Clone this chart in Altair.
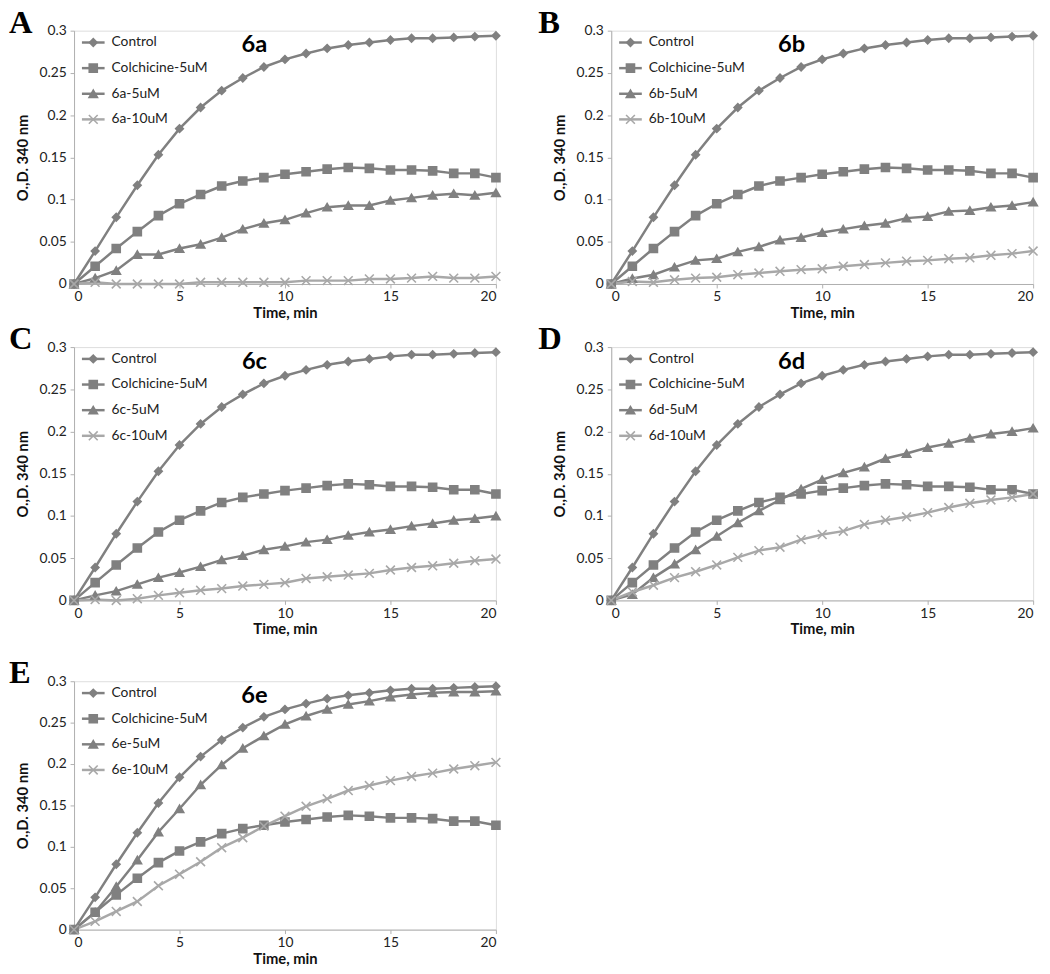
import altair as alt
import pandas as pd

time = list(range(21))
control = [0, 0.039, 0.079, 0.117, 0.153, 0.184, 0.209, 0.229, 0.244, 0.257, 0.266,
           0.273, 0.279, 0.283, 0.286, 0.289, 0.291, 0.291, 0.292, 0.293, 0.294]
colchicine = [0, 0.021, 0.042, 0.062, 0.081, 0.095, 0.106, 0.116, 0.122, 0.126, 0.130,
              0.133, 0.136, 0.138, 0.137, 0.135, 0.135, 0.134, 0.131, 0.131, 0.126]
a5 = [0, 0.007, 0.016, 0.035, 0.035, 0.042, 0.047, 0.055, 0.065, 0.072, 0.076,
      0.084, 0.091, 0.093, 0.093, 0.099, 0.102, 0.105, 0.107, 0.105, 0.108]
a10 = [0, 0.002, 0, 0, 0, 0, 0.002, 0.002, 0.002, 0.002, 0.002,
       0.004, 0.004, 0.004, 0.006, 0.006, 0.007, 0.009, 0.007, 0.007, 0.009]
b5 = [0, 0.0065, 0.011, 0.020, 0.028, 0.030, 0.038, 0.044, 0.052, 0.055, 0.061,
      0.065, 0.069, 0.072, 0.078, 0.080, 0.086, 0.087, 0.091, 0.093, 0.097]
b10 = [0, 0.003, 0.002, 0.005, 0.007, 0.008, 0.011, 0.013, 0.015, 0.017, 0.018,
       0.021, 0.023, 0.025, 0.027, 0.028, 0.030, 0.031, 0.034, 0.036, 0.039]
c5 = [0, 0.006, 0.011, 0.019, 0.027, 0.033, 0.040, 0.048, 0.053, 0.060, 0.064,
      0.069, 0.072, 0.077, 0.081, 0.084, 0.088, 0.091, 0.095, 0.097, 0.100]
c10 = [0, 0.001, 0, 0.002, 0.006, 0.009, 0.012, 0.014, 0.017, 0.019, 0.021,
       0.026, 0.028, 0.030, 0.032, 0.036, 0.039, 0.041, 0.044, 0.047, 0.049]
d5 = [0, 0.007, 0.027, 0.043, 0.060, 0.076, 0.092, 0.106, 0.119, 0.132, 0.143,
      0.151, 0.158, 0.168, 0.174, 0.181, 0.186, 0.192, 0.197, 0.200, 0.204]
d10 = [0, 0.010, 0.018, 0.027, 0.034, 0.042, 0.051, 0.059, 0.063, 0.072, 0.078,
       0.082, 0.090, 0.095, 0.099, 0.104, 0.110, 0.115, 0.119, 0.122, 0.126]
e5 = [0, 0.021, 0.052, 0.084, 0.118, 0.146, 0.175, 0.199, 0.219, 0.234, 0.248,
      0.258, 0.266, 0.272, 0.276, 0.281, 0.284, 0.286, 0.287, 0.287, 0.288]
e10 = [0, 0.010, 0.022, 0.034, 0.053, 0.067, 0.082, 0.099, 0.111, 0.125, 0.137,
       0.149, 0.158, 0.168, 0.174, 0.180, 0.185, 0.189, 0.194, 0.198, 0.202]

panel_letters = ["A", "B", "C", "D", "E"]
compounds = ["6a", "6b", "6c", "6d", "6e"]
series5 = [a5, b5, c5, d5, e5]
series10 = [a10, b10, c10, d10, e10]
y_ticks = [0, 0.05, 0.1, 0.15, 0.2, 0.25, 0.3]
x_ticks = [0, 5, 10, 15, 20]

keys = ["Control", "Colchicine", "Low", "High"]
colors = ["#808080", "#808080", "#808080", "#a8a8a8"]
shapes = ["diamond", "square", "triangle-up", "M-1,-1L1,1M1,-1L-1,1"]
sizes = [60, 80, 95, 60]

FONT = "Lato"
W = 428
HEIGHTS = [257, 257, 257, 257, 252]
LETTER_DX = [-66, -74, -66, -74, -66]


def panel(i):
    comp = compounds[i]
    labels = ["Control", "Colchicine-5uM", f"{comp}-5uM", f"{comp}-10uM"]
    rows = []
    for k, vals in zip(keys, [control, colchicine, series5[i], series10[i]]):
        for t, v in zip(time, vals):
            rows.append({"t": t, "od": v, "key": k})
    df = pd.DataFrame(rows)
    leg = pd.DataFrame({"order": [0, 1, 2, 3], "key": keys, "label": labels})

    color = alt.Color("key:N", scale=alt.Scale(domain=keys, range=colors), legend=None)
    shape = alt.Shape("key:N", scale=alt.Scale(domain=keys, range=shapes), legend=None)
    size = alt.Size("key:N", scale=alt.Scale(domain=keys, range=sizes), legend=None)
    fill = alt.Fill("key:N", scale=alt.Scale(domain=keys, range=colors), legend=None)
    stroke = alt.Stroke("key:N", scale=alt.Scale(domain=keys, range=colors), legend=None)

    x = alt.X("t:Q", scale=alt.Scale(domain=[0, 20], nice=False),
              axis=alt.Axis(values=x_ticks, title="Time, min", grid=False,
                            domainColor="#b0b0b0", tickColor="#b0b0b0", tickSize=4,
                            labelFont=FONT, labelFontSize=14, labelColor="#222",
                            labelPadding=2, titleFont=FONT, titleFontSize=15,
                            titleFontWeight="bold", titleColor="#111", titlePadding=2))
    y = alt.Y("od:Q", scale=alt.Scale(domain=[0, 0.3], nice=False),
              axis=alt.Axis(values=y_ticks, format=".2~f", title="O.,D. 340 nm", grid=False,
                            domainColor="#b0b0b0", tickColor="#b0b0b0", tickSize=4,
                            labelFont=FONT, labelFontSize=14, labelColor="#222",
                            labelPadding=4, titleFont=FONT, titleFontSize=15,
                            titleFontWeight="bold", titleColor="#111", titlePadding=9))

    lines = alt.Chart(df).mark_line(strokeWidth=2.5).encode(
        x=x, y=y, color=color, detail="key:N")
    pts = alt.Chart(df).mark_point(fillOpacity=1, strokeWidth=1.6, opacity=1).encode(
        x=x, y=y, shape=shape, size=size, fill=fill, stroke=stroke)
    main = alt.layer(lines, pts)

    ly = alt.Y("order:Q", scale=alt.Scale(domain=[0, 3], range=[12, 90]), axis=None)
    leg_rule = alt.Chart(leg).mark_rule(strokeWidth=2.5).encode(
        x=alt.value(8), x2=alt.value(31), y=ly, color=color)
    leg_pts = alt.Chart(leg).mark_point(fillOpacity=1, strokeWidth=1.6, opacity=1).encode(
        x=alt.value(19.5), y=ly, shape=shape, size=size, fill=fill, stroke=stroke)
    leg_txt = alt.Chart(leg).mark_text(align="left", baseline="middle", font=FONT,
                                       fontSize=14, color="#222").encode(
        x=alt.value(38), y=ly, text="label:N")
    legend = alt.layer(leg_rule, leg_pts, leg_txt)

    lab = pd.DataFrame({"letter": [panel_letters[i]], "comp": [comp]})
    letter = alt.Chart(lab).mark_text(align="left", baseline="alphabetic",
                                      font="Liberation Serif", fontWeight="bold",
                                      fontSize=33, color="#000").encode(
        x=alt.value(LETTER_DX[i]), y=alt.value(2), text="letter:N")
    tag = alt.Chart(lab).mark_text(align="center", baseline="middle", font=FONT,
                                   fontWeight="bold", fontSize=24, color="#000").encode(
        x=alt.value(183), y=alt.value(15), text="comp:N")

    return alt.layer(main, legend, letter, tag).resolve_scale(
        y="independent").properties(width=W, height=HEIGHTS[i])


row1 = alt.hconcat(panel(0), panel(1), spacing=33)
row2 = alt.hconcat(panel(2), panel(3), spacing=33)
top = alt.vconcat(row1, row2, spacing=1)
chart = alt.vconcat(top, panel(4), spacing=19).properties(
    padding={"top": -9, "left": 0, "right": 0, "bottom": 0}
).configure_view(stroke=None).configure(background="white")

chart.save("out.html", embed_options={"renderer": "svg", "actions": False})
